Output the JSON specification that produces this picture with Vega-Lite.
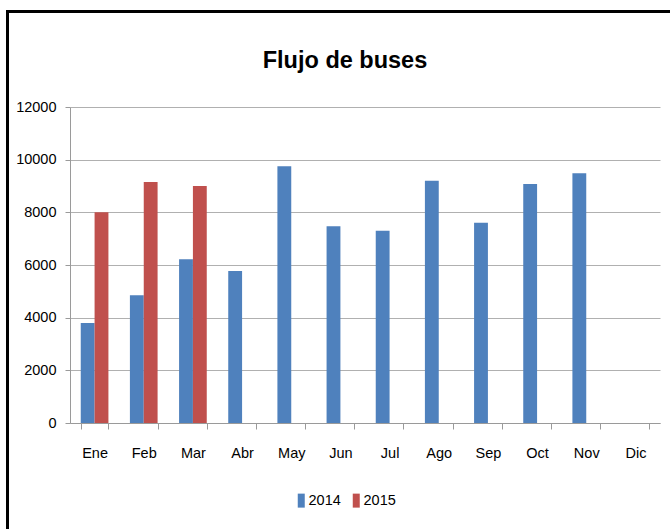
{
  "$schema": "https://vega.github.io/schema/vega-lite/v6.json",
  "width": 590,
  "height": 316,
  "autosize": {"type": "none"},
  "padding": {"left": 70, "top": 107, "right": 10, "bottom": 106},
  "background": "white",
  "title": {
    "text": "Flujo de buses",
    "font": "Liberation Sans, Arial, sans-serif",
    "fontSize": 23.5,
    "fontWeight": "bold",
    "color": "#000000",
    "anchor": "middle",
    "frame": "group",
    "dx": -20,
    "offset": -62
  },
  "data": {
    "values": [
      {"mes": "Ene", "anio": "2014", "valor": 3800},
      {"mes": "Feb", "anio": "2014", "valor": 4850},
      {"mes": "Mar", "anio": "2014", "valor": 6220},
      {"mes": "Abr", "anio": "2014", "valor": 5770},
      {"mes": "May", "anio": "2014", "valor": 9750},
      {"mes": "Jun", "anio": "2014", "valor": 7470},
      {"mes": "Jul", "anio": "2014", "valor": 7300},
      {"mes": "Ago", "anio": "2014", "valor": 9200},
      {"mes": "Sep", "anio": "2014", "valor": 7600},
      {"mes": "Oct", "anio": "2014", "valor": 9080},
      {"mes": "Nov", "anio": "2014", "valor": 9480},
      {"mes": "Ene", "anio": "2015", "valor": 8000},
      {"mes": "Feb", "anio": "2015", "valor": 9150},
      {"mes": "Mar", "anio": "2015", "valor": 9000}
    ]
  },
  "mark": {"type": "bar"},
  "encoding": {
    "x": {
      "field": "mes",
      "type": "nominal",
      "scale": {
        "domain": ["Ene", "Feb", "Mar", "Abr", "May", "Jun", "Jul", "Ago", "Sep", "Oct", "Nov", "Dic"],
        "paddingInner": 0.437,
        "paddingOuter": 0.2185
      },
      "axis": {
        "title": null,
        "labelAngle": 0,
        "tickBand": "extent",
        "domainColor": "#9a9a9a",
        "tickColor": "#9a9a9a",
        "tickSize": 6,
        "labelFont": "Liberation Sans, Arial, sans-serif",
        "labelFontSize": 14.5,
        "labelColor": "#000000",
        "labelPadding": 17,
        "grid": false
      }
    },
    "xOffset": {
      "field": "anio",
      "type": "nominal",
      "scale": {"paddingInner": 0, "paddingOuter": 0}
    },
    "y": {
      "field": "valor",
      "type": "quantitative",
      "scale": {"domain": [0, 12000], "nice": false},
      "axis": {
        "title": null,
        "values": [0, 2000, 4000, 6000, 8000, 10000, 12000],
        "format": "d",
        "domainColor": "#9a9a9a",
        "tickColor": "#9a9a9a",
        "tickSize": 5,
        "gridColor": "#b0b0b0",
        "gridWidth": 1,
        "labelFont": "Liberation Sans, Arial, sans-serif",
        "labelFontSize": 14.5,
        "labelColor": "#000000",
        "labelPadding": 9
      }
    },
    "color": {
      "field": "anio",
      "type": "nominal",
      "scale": {"domain": ["2014", "2015"], "range": ["#4F81BD", "#C0504D"]},
      "legend": {
        "orient": "none",
        "legendX": -62.5,
        "legendY": -95.5,
        "direction": "horizontal",
        "title": ".",
        "titleOpacity": 0,
        "titleFontSize": 10,
        "titlePadding": 185,
        "padding": 286.5,
        "strokeColor": "#000000",
        "symbolType": "M-0.5,-1H0.5V1H-0.5Z",
        "symbolSize": 196,
        "symbolStrokeWidth": 0,
        "symbolOpacity": 1,
        "labelFont": "Liberation Sans, Arial, sans-serif",
        "labelFontSize": 14.5,
        "labelColor": "#000000",
        "labelOffset": 0,
        "columnPadding": 8
      }
    }
  },
  "config": {"view": {"stroke": null}, "legend": {"strokeWidth": 3}}
}
